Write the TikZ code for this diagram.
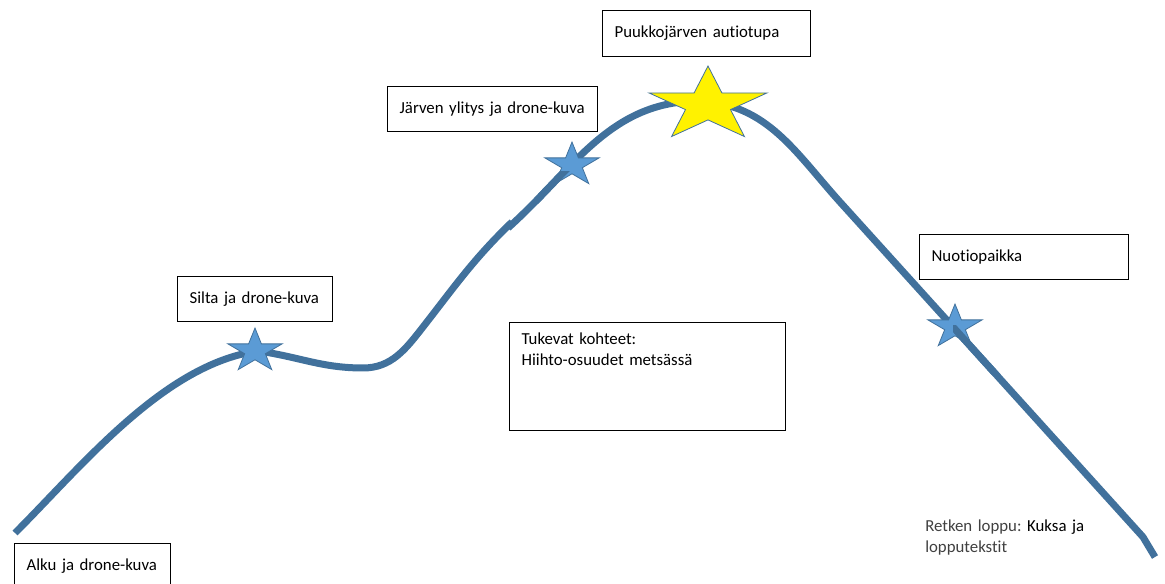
\documentclass[tikz,border=0pt]{standalone}
\usepackage{fontspec}
\setmainfont{Carlito}[Ligatures=NoCommon]
\frenchspacing
\definecolor{trailblue}{HTML}{41719C}
\definecolor{starblue}{HTML}{5B9BD5}
\definecolor{textgrey}{HTML}{404040}
\newcommand\waypointfont{\fontsize{12.6pt}{15.75pt}\selectfont}
\tikzset{
  trailstar/.pic={
    \path[pic actions] (90:1) \foreach \k in {1,...,9}{ -- ({90+36*\k}:{mod(\k,2)==1 ? 0.382 : 1}) } -- cycle;
  }
}
\begin{document}
\begin{tikzpicture}[x=0.75pt,y=0.75pt,
  waypoint/.style={draw,line width=0.9pt,anchor=north west,inner xsep=9pt,align=left,font=\waypointfont},
  trail/.style={draw=trailblue,line width=5.25pt},
  smallstar/.style={fill=starblue,draw=trailblue,line width=0.6pt,xscale=28.5,yscale=23}]

	\useasboundingbox (0,0) rectangle (1165,-584);

	\node[waypoint,minimum width=117pt,minimum height=33.75pt,text width=99pt] (alku) at (14,-543) {Alku ja drone-kuva};
	\node[waypoint,minimum width=116.25pt,minimum height=33.75pt,text width=98.25pt] (silta) at (177,-276) {Silta ja drone-kuva};
	\node[waypoint,minimum width=157.5pt,minimum height=33.75pt,text width=139.5pt] (jarvi) at (387,-86) {Järven ylitys ja drone-kuva};
	\node[waypoint,minimum width=156pt,minimum height=34.5pt,text width=138pt] (tupa) at (602,-10) {Puukkojärven autiotupa};
	\node[waypoint,minimum width=156.75pt,minimum height=33.75pt,text width=138.75pt] (nuotio) at (919,-234) {Nuotiopaikka};
	\node[waypoint,text width=189pt,text height=16.5pt,text depth=64.5pt,inner ysep=0pt] (tukevat) at (509,-322) {Tukevat kohteet:\\Hiihto-osuudet metsässä};
	\node[font=\waypointfont,text=textgrey,anchor=base west,inner sep=0pt,text width=200pt,align=left] (loppu) at (925,-532) {Retken loppu: \textcolor{black}{Kuksa ja}\\lopputekstit};

	% the trail, drawn in two pieces
	\draw[trail] (15,-533) to[out=45,in=188,looseness=0.8] (258,-351) to[out=-8,in=180] (363,-368)
		to[out=0,in=232] (423,-327) to[out=52,in=224] (512,-222);
	\path[save path=\trailtop] (508,-228) to[out=42,in=180] (700,-101) to[out=-3,in=132] (840,-202)
		-- (1143,-537) -- (1155,-557);
	\draw[trail,use path=\trailtop];

	% stops along the way
	\path (255,-351) pic[smallstar] (starsilta) {trailstar};
	\path (572,-165) pic[smallstar] (starjarvi) {trailstar};
	\path (955,-327) pic[smallstar] (starnuotio) {trailstar};
	\path (708,-105) pic[fill=yellow,draw=trailblue,line width=0.6pt,xscale=62,yscale=39] (startupa) {trailstar};

	% trail shows over the lower parts of two stars
	\begin{scope}
		\clip (538,-172) rectangle (570,-215);
		\draw[trail,use path=\trailtop];
	\end{scope}
	\begin{scope}
		\clip (953,-326) rectangle (1000,-375);
		\draw[trail,use path=\trailtop];
	\end{scope}

\end{tikzpicture}
\end{document}
